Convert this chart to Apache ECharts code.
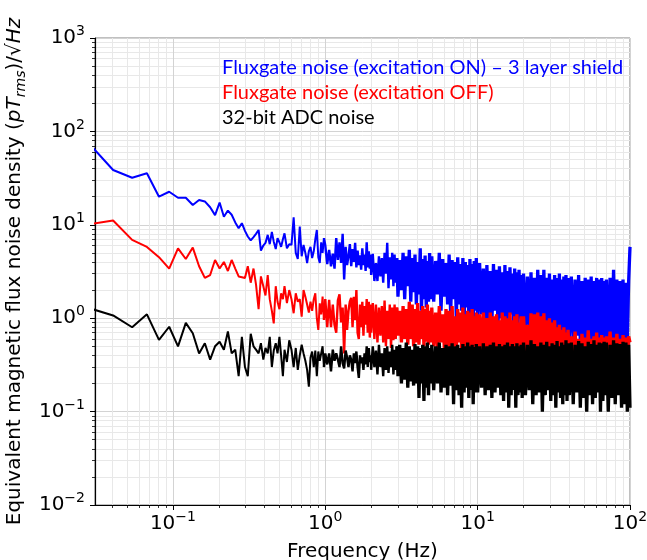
<!DOCTYPE html>
<html><head><meta charset="utf-8">
<script src="https://cdn.jsdelivr.net/npm/echarts@6/dist/echarts.min.js"></script>
<style>html,body{margin:0;padding:0;background:#fff}#c{width:647px;height:560px}</style>
</head><body><div id="c"></div>
<script>
// Frequency grid (Hz)
const freq = [
0.027,0.0405,0.054,0.0675,0.081,0.0945,0.108,0.1215,0.135,0.1485,0.162,0.1755,0.189,0.2025,0.216,0.2295,0.243,0.2565,0.27,0.2835,0.297,
0.31,0.324,0.338,0.351,0.365,0.378,0.392,0.405,0.419,0.432,0.446,0.459,0.473,0.486,0.5,0.513,0.527,0.54,0.56,0.58,0.6,0.62,0.64,0.66,0.68,0.7,0.72,0.74,0.76,0.78,0.8,0.82,0.84,0.86,0.88,0.9,0.92,0.94,0.96,0.98,
1.00,1.03,1.06,1.09,1.12,1.15,1.18,1.21,1.24,1.27,1.30,1.33,1.36,1.39,1.42,1.45,1.48,1.51,1.54,1.57,1.60,1.63,1.66,1.69,1.72,1.75,1.78,1.81,1.84,1.87,1.90,1.93,1.96,1.99,
2.00,2.05,2.10,2.15,2.20,2.25,2.30,2.35,2.40,2.45,2.50,2.55,2.60,2.65,2.70,2.75,2.80,2.85,2.90,2.95,
3.00,3.08,3.16,3.24,3.32,3.40,3.48,3.56,3.64,3.72,3.80,3.88,3.96,4.04,4.12,4.20,4.28,4.36,4.44,4.52,4.60,4.68,4.76,4.84,4.92,
5.00,5.15,5.30,5.45,5.60,5.75,5.90,6.05,6.20,6.35,6.50,6.65,6.80,6.95,7.10,7.25,7.40,7.55,7.70,7.85,8.00,8.15,8.30,8.45,8.60,8.75,8.90,9.05,9.20,9.35,9.50,9.65,9.80,
10.0,10.3,10.6,10.9,11.2,11.5,11.8,12.1,12.4,12.7,13.0,13.3,13.6,13.9,14.2,14.5,14.8,15.1,15.4,15.7,16.0,16.3,16.6,16.9,17.2,17.5,17.8,18.1,18.4,18.7,19.0,19.3,19.6,
20.0,20.6,21.2,21.8,22.4,23.0,23.6,24.2,24.8,25.4,26.0,26.6,27.2,27.8,28.4,29.0,29.6,30.2,30.8,31.4,32.0,32.6,33.2,33.8,34.4,35.0,35.6,36.2,36.8,37.4,38.0,38.6,39.2,
40.0,41.2,42.4,43.6,44.8,46.0,47.2,48.4,49.6,50.8,52.0,53.2,54.4,55.6,56.8,58.0,59.2,60.4,61.6,62.8,64.0,65.2,66.4,67.6,68.8,
70,72,74,76,78,80,82,84,86,88,90,92,94,96,98,100
];

// Fluxgate noise, excitation ON (pT/sqrt(Hz))
const fluxgateOn = [
80,38.6,31.9,35.6,20.0,22.6,19.5,19.5,16.3,18.4,17.8,15.4,12.7,17.3,12.2,14.2,12.8,10.6,9.2,10.4,8.6,
7.5,6.8,7.4,8.0,8.8,5.3,6.0,6.4,7.8,6.2,8.4,6.6,5.5,7.2,6.5,5.8,7.0,8.1,5.6,6.2,6.1,12.0,5.0,4.3,9.6,4.6,6.1,5.0,3.9,5.2,5.8,4.4,5.2,7.0,8.8,4.5,3.9,6.5,5.0,7.2,
6.0,3.8,5.4,3.6,4.9,3.4,7.2,4.2,6.5,3.9,8.0,2.6,5.8,3.7,4.6,6.2,3.6,5.5,4.0,6.4,3.5,5.3,3.7,4.7,3.3,5.6,3.7,4.8,3.2,6.5,3.5,5.2,3.4,4.8,
2.9,4.9,2.5,3.9,2.5,4.6,2.8,4.4,2.4,5.0,3.0,6.4,2.1,4.5,2.6,5.0,2.2,4.8,2.4,4.4,
1.7,4.2,2.0,5.0,1.6,4.6,2.2,5.4,1.5,4.4,1.9,4.8,1.4,4.0,1.8,5.6,1.2,4.3,1.6,4.7,1.3,4.1,1.5,5.0,1.6,
4.6,1.5,4.1,1.8,5.0,1.2,4.3,1.7,3.9,1.4,4.8,1.1,4.2,1.6,4.0,1.0,4.5,1.4,3.8,1.2,4.4,0.9,4.0,1.3,3.7,1.0,4.3,1.1,3.8,0.9,4.1,1.2,4.4,
0.9,3.9,1.1,3.4,0.8,3.7,1.0,3.2,0.85,3.8,1.2,3.3,0.8,3.6,1.0,3.1,0.75,3.7,0.95,3.2,0.8,3.5,1.1,3.0,0.8,3.4,0.9,3.1,0.75,3.3,1.0,2.9,0.85,
3.0,0.7,2.8,0.8,3.1,0.65,2.7,0.75,3.3,0.6,2.9,0.8,3.3,0.7,2.7,0.65,3.0,0.75,2.6,0.6,2.9,0.7,2.7,0.65,3.0,0.6,2.6,0.7,2.8,0.6,2.9,0.65,2.7,
0.6,2.8,0.55,2.6,0.65,2.9,0.55,2.5,0.6,2.7,0.5,2.6,0.6,2.8,0.55,2.5,0.6,2.7,0.5,2.6,0.6,2.7,0.55,2.5,0.6,
2.6,0.5,2.7,0.55,3.3,0.6,2.6,0.5,2.5,0.55,2.6,0.5,2.4,0.6,2.5,5.8
];

// Fluxgate noise, excitation OFF
const fluxgateOff = [
10.0,11.1,6.9,5.8,4.5,3.4,5.6,4.3,5.7,3.6,2.7,2.9,4.2,3.4,4.0,3.2,4.2,3.4,2.8,2.75,2.7,
3.6,2.4,3.4,2.3,1.25,2.8,2.2,1.75,2.9,1.6,1.2,0.88,2.2,1.5,1.25,1.85,1.6,2.2,1.45,2.0,1.6,1.13,1.85,1.5,1.6,1.04,2.0,1.7,1.4,1.15,1.5,1.2,1.6,1.85,1.0,0.75,1.44,1.1,1.7,0.96,
1.6,0.8,1.57,0.8,1.4,0.85,0.7,1.55,1.8,0.9,1.3,0.42,1.4,0.75,1.2,1.5,1.65,0.8,1.7,0.95,2.0,0.7,0.6,1.4,0.8,1.5,0.65,1.35,0.85,1.6,0.7,1.5,0.62,1.4,
0.7,1.45,0.6,1.4,0.55,1.3,0.65,1.35,0.55,1.55,0.5,1.2,0.6,1.4,0.48,1.3,0.58,1.4,0.6,1.3,
0.65,1.2,0.55,1.35,0.6,1.25,0.52,1.5,0.6,1.4,0.5,1.25,0.55,1.45,0.52,1.2,0.6,1.35,0.5,1.25,0.56,1.4,0.52,1.2,0.55,
1.3,0.5,1.15,0.48,1.35,0.55,1.1,0.46,1.25,0.5,1.2,0.42,1.35,0.5,1.05,0.46,1.25,0.55,1.15,0.45,1.3,0.5,1.1,0.46,1.2,0.42,1.15,0.5,1.25,0.46,1.05,0.5,1.15,
0.46,1.1,0.42,1.15,0.46,1.0,0.42,1.15,0.46,1.05,0.38,1.1,0.46,0.95,0.42,1.15,0.46,1.05,0.42,1.0,0.46,1.15,0.42,0.95,0.46,1.05,0.38,1.1,0.42,0.9,0.46,1.05,0.42,
1.05,0.42,0.85,0.38,1.13,0.42,1.1,0.38,1.15,0.42,1.05,0.38,1.13,0.42,0.95,0.38,1.0,0.42,0.9,0.38,0.95,0.42,0.8,0.38,0.85,0.42,0.75,0.38,0.8,0.38,0.7,0.42,0.75,
0.38,0.64,0.36,0.72,0.38,0.6,0.34,0.68,0.38,0.62,0.36,0.74,0.38,0.6,0.34,0.64,0.38,0.7,0.36,0.62,0.34,0.66,0.38,0.62,0.36,
0.64,0.36,0.72,0.34,0.62,0.38,0.68,0.36,0.6,0.34,0.66,0.36,0.62,0.34,0.64,0.55
];

// 32-bit ADC noise
const adcNoise = [
1.31,1.07,0.80,1.10,0.585,0.81,0.50,0.89,0.69,0.42,0.54,0.36,0.50,0.56,0.46,0.72,0.42,0.46,0.24,0.63,0.30,
0.24,0.68,0.5,0.46,0.42,0.54,0.36,0.48,0.42,0.63,0.30,0.45,0.54,0.42,0.63,0.40,0.24,0.46,0.34,0.58,0.46,0.30,0.48,0.28,0.40,0.52,0.42,0.35,0.28,0.185,0.38,0.44,0.30,0.45,0.24,0.44,0.35,0.42,0.5,0.3,
0.42,0.32,0.42,0.27,0.46,0.35,0.42,0.36,0.3,0.5,0.33,0.29,0.45,0.38,0.3,0.4,0.36,0.27,0.42,0.33,0.44,0.3,0.23,0.4,0.33,0.38,0.28,0.42,0.32,0.5,0.3,0.48,0.34,0.4,
0.28,0.5,0.3,0.45,0.25,0.52,0.3,0.42,0.24,0.48,0.28,0.5,0.26,0.44,0.3,0.52,0.25,0.46,0.28,0.5,
0.24,0.52,0.2,0.48,0.22,0.55,0.18,0.5,0.21,0.46,0.19,0.53,0.2,0.5,0.14,0.48,0.2,0.52,0.13,0.5,0.18,0.55,0.15,0.48,0.2,
0.52,0.17,0.5,0.2,0.55,0.16,0.48,0.18,0.52,0.15,0.5,0.19,0.54,0.12,0.5,0.17,0.52,0.15,0.48,0.11,0.53,0.16,0.5,0.18,0.55,0.14,0.5,0.17,0.52,0.12,0.49,0.16,0.53,
0.16,0.5,0.18,0.54,0.15,0.5,0.17,0.52,0.14,0.55,0.16,0.5,0.18,0.53,0.15,0.5,0.13,0.52,0.16,0.55,0.11,0.5,0.15,0.53,0.17,0.5,0.11,0.54,0.15,0.5,0.16,0.52,0.14,
0.55,0.15,0.52,0.17,0.58,0.12,0.53,0.15,0.5,0.16,0.55,0.1,0.52,0.15,0.56,0.17,0.5,0.13,0.54,0.15,0.52,0.11,0.57,0.16,0.5,0.14,0.55,0.12,0.52,0.15,0.58,0.13,0.54,
0.15,0.55,0.12,0.52,0.16,0.57,0.11,0.54,0.14,0.5,0.1,0.56,0.15,0.53,0.12,0.58,0.14,0.52,0.16,0.55,0.1,0.54,0.13,0.56,0.15,
0.55,0.1,0.52,0.14,0.58,0.12,0.54,0.15,0.53,0.11,0.56,0.12,0.55,0.1,0.52,0.11
];

const seriesNames = ['Fluxgate noise (excitation ON) \u2013 3 layer shield', 'Fluxgate noise (excitation OFF)', '32-bit ADC noise'];
const xMajorTicks = [0.1, 1, 10, 100];
const xMinorTicks = [0.04,0.05,0.06,0.07,0.08,0.09,0.2,0.3,0.4,0.5,0.6,0.7,0.8,0.9,2,3,4,5,6,7,8,9,20,30,40,50,60,70,80,90];
const yMajorTicks = [0.01, 0.1, 1, 10, 100, 1000];
const yMinorTicks = [0.02,0.03,0.04,0.05,0.06,0.07,0.08,0.09,0.2,0.3,0.4,0.5,0.6,0.7,0.8,0.9,2,3,4,5,6,7,8,9,20,30,40,50,60,70,80,90,200,300,400,500,600,700,800,900];
const xRange = [0.0308, 100];
const yRange = [0.01, 1000];
const xTitle = 'Frequency (Hz)';
const yTitle = 'Equivalent magnetic flux noise density ({it|pT}{sub|rms})/\u221A{it|Hz}';
// frequency bands (Hz) drawn with progressively heavier strokes as the trace gets denser
const bandEdges = [0, 0.98, 2.95, 1000];
const bandWidths = [2, 2.4, 3.3];

const FONT = 'DejaVu Sans';
function powLabel(v) {
  const e = Math.round(Math.log10(v));
  return '10{sup|' + (e < 0 ? '\u2212' + (-e) : String(e)) + '}';
}
const labelRich = { sup: { fontFamily: FONT, fontSize: 14, lineHeight: 14, verticalAlign: 'top', color: '#000' } };

function majorAxis(range, ticks, extra) {
  return Object.assign({
    type: 'log', logBase: 10, min: range[0], max: range[1],
    axisLine: { show: true, onZero: false, lineStyle: { color: '#000', width: 1.2 } },
    axisTick: { show: true, inside: false, length: 5, customValues: ticks, lineStyle: { color: '#000', width: 1 } },
    splitLine: { show: true, lineStyle: { color: '#d3d3d3', width: 1 } }
  }, extra);
}
function minorAxis(range, ticks, pos) {
  return {
    type: 'log', logBase: 10, min: range[0], max: range[1], position: pos,
    axisLine: { show: false },
    axisTick: { show: true, inside: false, length: 3, customValues: ticks, lineStyle: { color: '#000', width: 0.8 } },
    axisLabel: { show: false },
    splitLine: { show: true, lineStyle: { color: '#e8e8e8', width: 1 } }
  };
}

const colors = ['#0000ff', '#ff0000', '#000000'];
const values = [fluxgateOn, fluxgateOff, adcNoise];

const series = [];
seriesNames.forEach((n, i) => {
  const pts = freq.map((f, k) => [f, values[i][k]]);
  for (let b = 0; b < bandWidths.length; b++) {
    series.push({
      name: n, type: 'line', xAxisIndex: 0, yAxisIndex: 0,
      data: pts.filter(p => p[0] >= bandEdges[b] && p[0] <= bandEdges[b + 1]),
      showSymbol: false, symbol: 'none', silent: true, z: 2 + i,
      lineStyle: { color: colors[i], width: bandWidths[b], join: 'bevel' },
      itemStyle: { color: colors[i] }, emphasis: { disabled: true }
    });
  }
});

const chart = echarts.init(document.getElementById('c'), null, { renderer: 'canvas' });
chart.setOption({
  animation: false,
  backgroundColor: '#ffffff',
  grid: { left: 95, right: 17, top: 38, bottom: 55, outerBoundsMode: 'none', containLabel: false,
          show: true, borderColor: '#808080', borderWidth: 1, backgroundColor: 'transparent' },
  legend: {
    show: true, orient: 'vertical', left: 212, top: 53, padding: 5, icon: 'none', itemWidth: 0, itemHeight: 20, itemGap: 5,
    selectedMode: false,
    textStyle: { fontFamily: 'Lato', fontSize: 20, lineHeight: 20 },
    data: seriesNames.map((n, i) => ({ name: n, textStyle: { color: colors[i] } }))
  },
  xAxis: [
    majorAxis(xRange, xMajorTicks, {
      position: 'bottom', name: xTitle, nameLocation: 'middle', nameGap: 34,
      nameTextStyle: { fontFamily: FONT, fontSize: 20, color: '#000' },
      axisLabel: { customValues: xMajorTicks, formatter: powLabel, color: '#000', fontFamily: FONT, fontSize: 20, lineHeight: 27, margin: 5, rich: labelRich }
    }),
    minorAxis(xRange, xMinorTicks, 'bottom')
  ],
  yAxis: [
    majorAxis(yRange, yMajorTicks, {
      position: 'left', name: yTitle, nameLocation: 'middle', nameGap: 56,
      nameTextStyle: {
        fontFamily: FONT, fontSize: 20, color: '#000', lineHeight: 27,
        rich: {
          it: { fontFamily: FONT, fontSize: 20, fontStyle: 'italic', color: '#000', lineHeight: 27 },
          sub: { fontFamily: FONT, fontSize: 14, fontStyle: 'italic', color: '#000', lineHeight: 14, verticalAlign: 'bottom' }
        }
      },
      axisLabel: { customValues: yMajorTicks, formatter: powLabel, color: '#000', fontFamily: FONT, fontSize: 20, lineHeight: 27, margin: 10, rich: labelRich }
    }),
    minorAxis(yRange, yMinorTicks, 'left')
  ],
  series: series
});
</script>
</body></html>
